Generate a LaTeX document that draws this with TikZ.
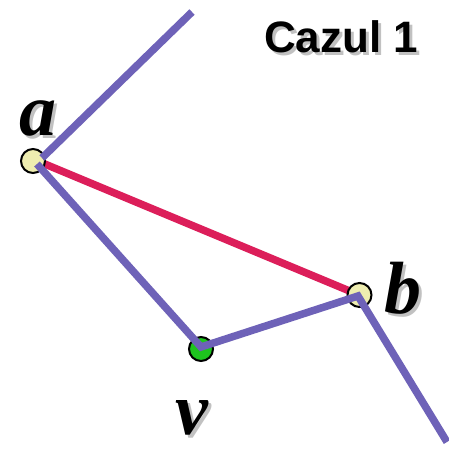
\documentclass[tikz,border=0pt]{standalone}
\usepackage{fontspec}
\newfontfamily\labfont{Liberation Serif}
\newfontfamily\headfont{Liberation Sans}
\definecolor{edgeblue}{HTML}{6E62B8}
\definecolor{edgered}{HTML}{DC1E5A}
\definecolor{ptyellow}{HTML}{EEEDB0}
\definecolor{ptgreen}{HTML}{1EC41E}
\tikzset{
  vtx/.style={circle, draw=black, line width=2pt, minimum size=24pt, inner sep=0pt},
  poly/.style={draw=edgeblue, line width=7.5pt, line join=miter},
  chord/.style={draw=edgered, line width=7.5pt},
  lab/.style={font=\labfont\bfseries\itshape\fontsize{74}{74}\selectfont, inner sep=0pt, anchor=base},
  shadowlab/.style={lab, text=black!40, opacity=0.6},
  head/.style={font=\headfont\bfseries\fontsize{44}{44}\selectfont, inner sep=0pt, anchor=base west},
  shadowhead/.style={head, text=black!40, opacity=0.6},
}
\begin{document}
\begin{tikzpicture}[x=1pt,y=-1pt]
\useasboundingbox (0,0) rectangle (448,450);
\fill[white] (0,0) rectangle (448,450);
% coordinates
\coordinate (top) at (192,12);
\coordinate (aA) at (42,158);
\coordinate (aB) at (37,164);
\coordinate (vc) at (201,347);
\coordinate (bc) at (358,296);
\coordinate (bot) at (447,442);
\coordinate (rs) at (40,162);
\coordinate (re) at (352,292);
% red chord under circles
\draw[chord] (rs) -- (re);
% vertices
\node[vtx, fill=ptyellow] (a) at (33,161) {};
\node[vtx, fill=ptyellow] (b) at (359.5,295) {};
\node[vtx, fill=ptgreen] (v) at (201,349) {};
% blue polygon edges
\draw[poly] (top) -- (aA);
\draw[poly] (aB) -- (vc) -- (bc) -- (bot);
% labels with drop shadows
\node[shadowlab] (las) at (41,138) {a};
\node[lab] (la) at (38,135) {a};
\node[shadowlab] (lbs) at (406,316) {b};
\node[lab] (lb) at (403,313) {b};
\node[shadowlab] (lvs) at (195,437) {v};
\node[lab] (lv) at (192,434) {v};
\node[shadowhead] (titles) at (267,55) {Cazul 1};
\node[head] (title) at (264,52) {Cazul 1};
\end{tikzpicture}
\end{document}
